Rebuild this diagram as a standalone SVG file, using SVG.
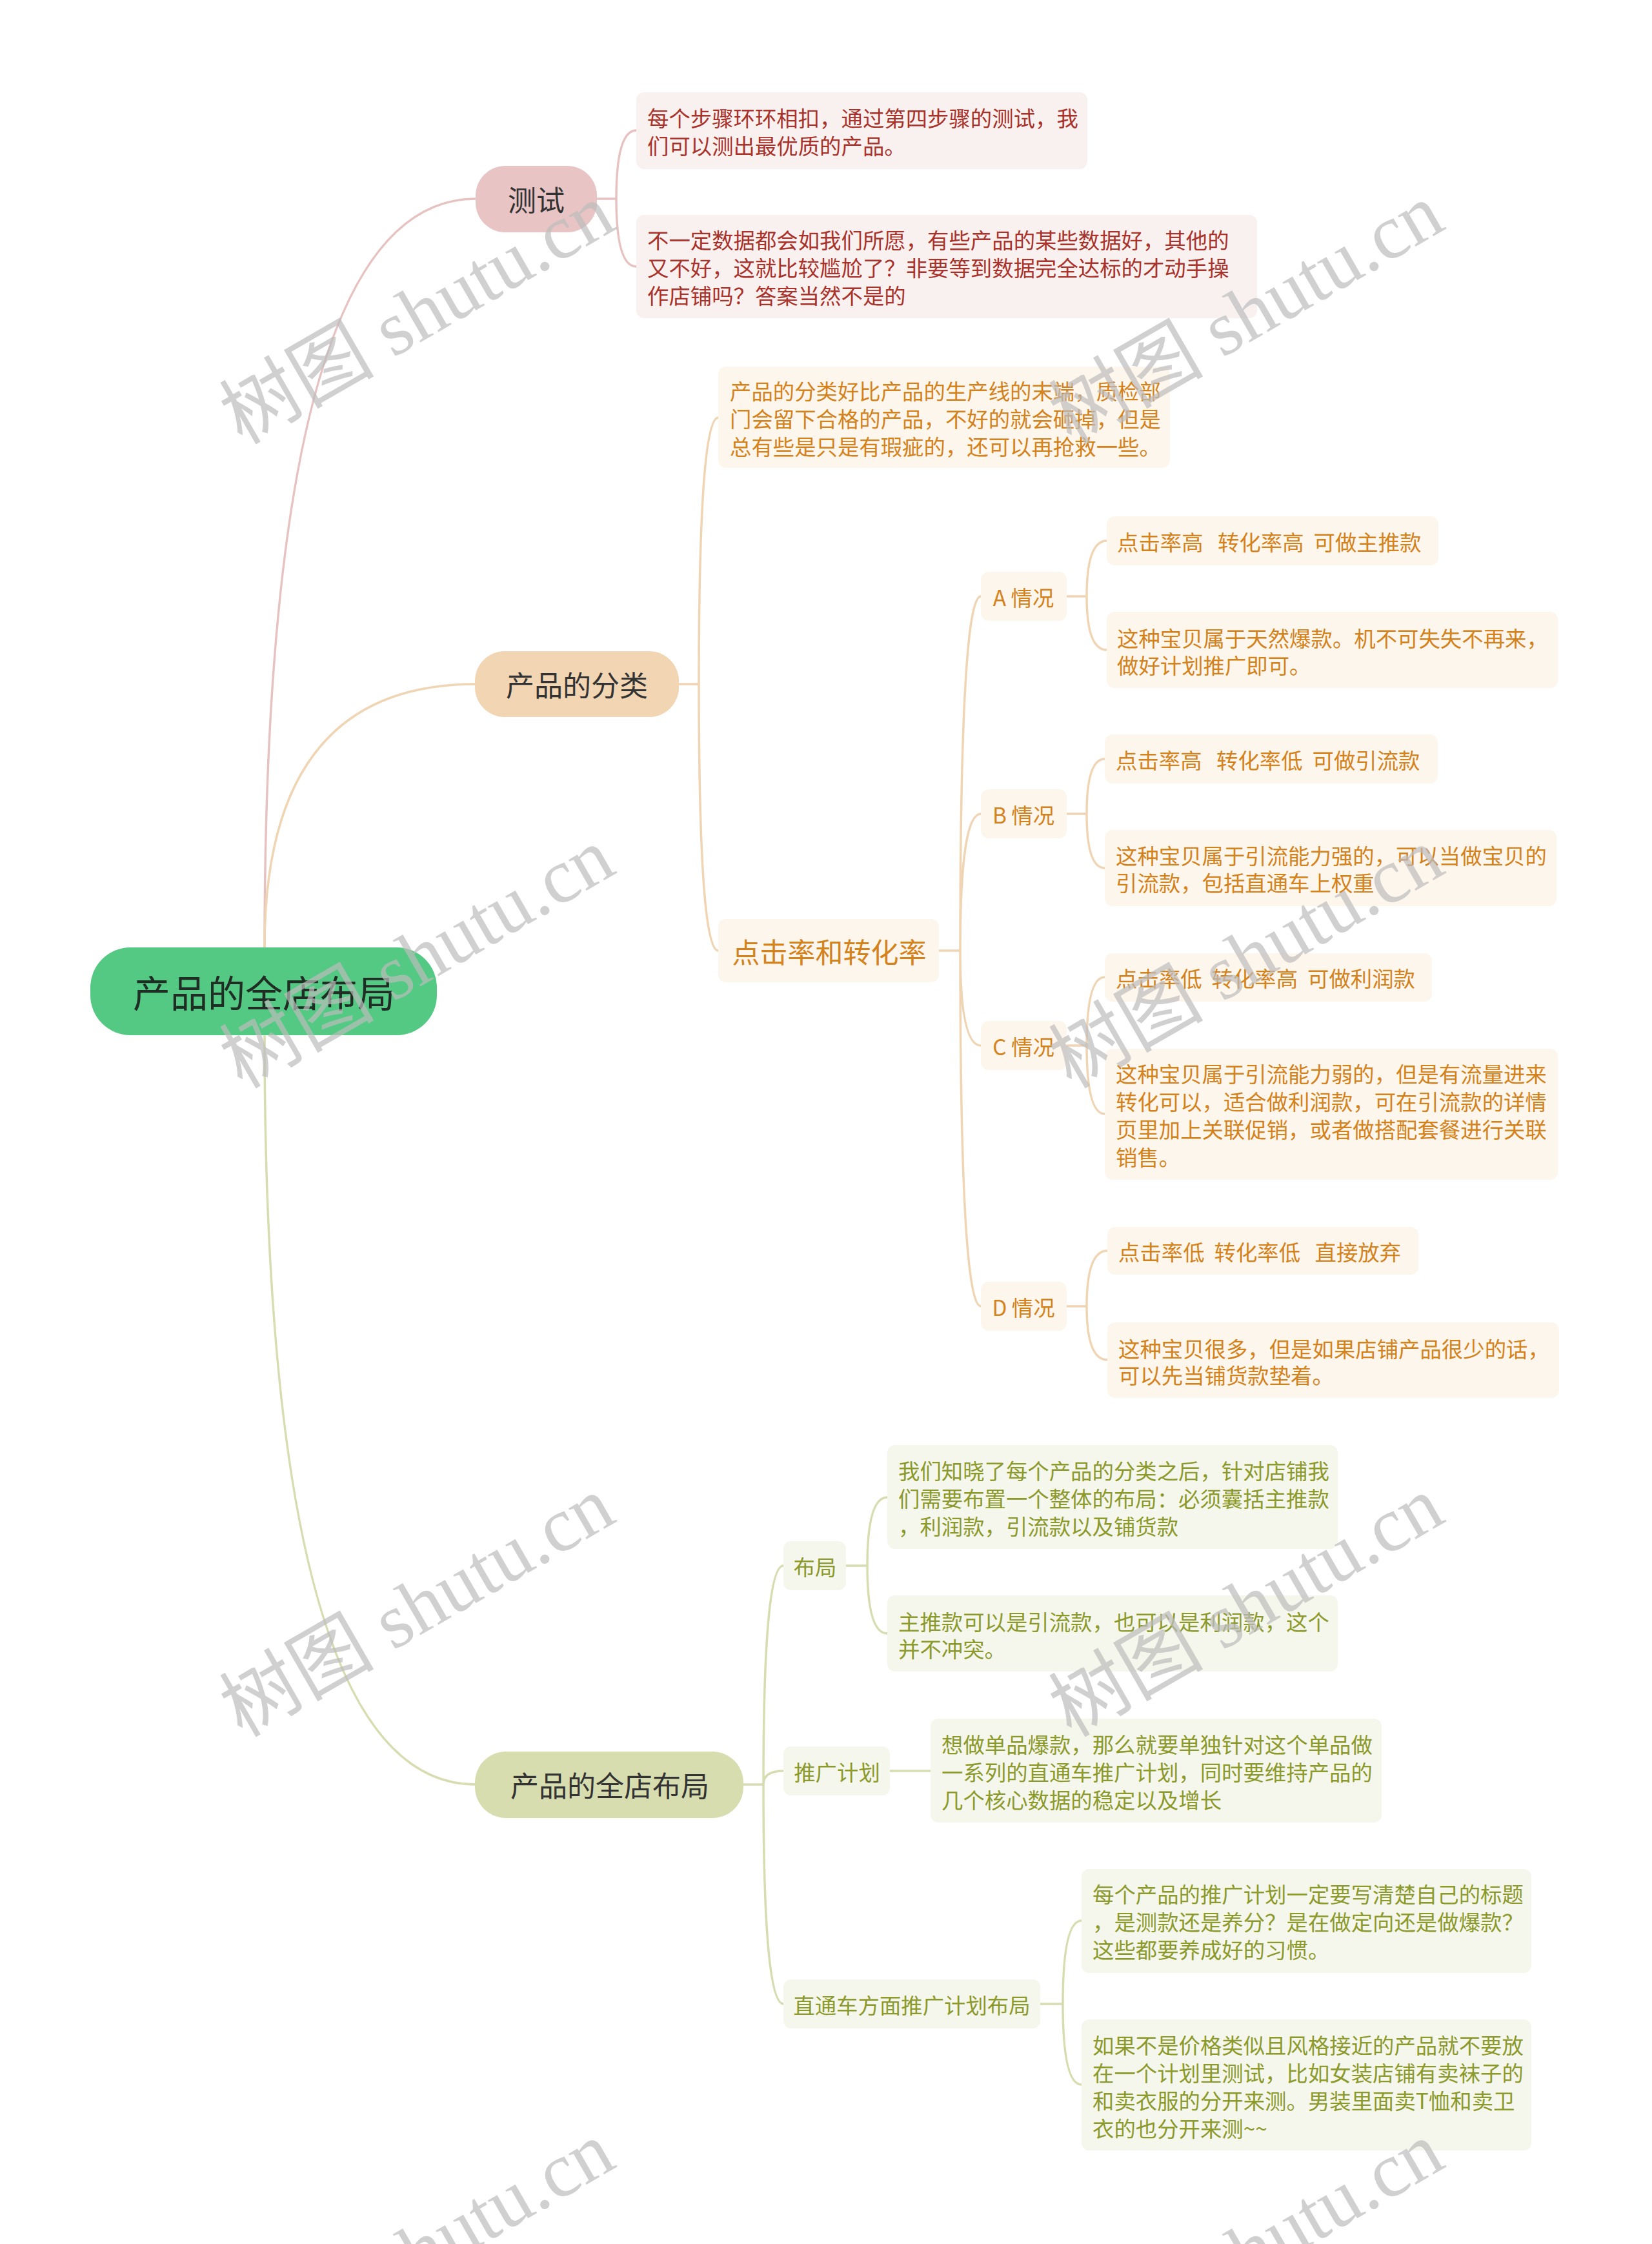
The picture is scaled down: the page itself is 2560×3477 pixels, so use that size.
<svg xmlns="http://www.w3.org/2000/svg" width="2560" height="3477" viewBox="0 0 2560 3477">
<style>
text{font-family:"Noto Sans CJK SC","Noto Sans",sans-serif;dominant-baseline:central;white-space:pre}
.main{font-size:44px;fill:#333333;text-anchor:middle}
.leaf{font-size:33.4px}
.sub{font-size:33.4px;text-anchor:middle}
.pk{fill:#a9322a}.tn{fill:#d4821c}.gr{fill:#8c9a2c}
.bpk{fill:#f9f1f0}.btn{fill:#fdf6ed}.bgr{fill:#f5f6ec}
.lpk{fill:none;stroke:#e6c2c1;stroke-width:3.5}
.ltn{fill:none;stroke:#efd5b4;stroke-width:3.5}
.lgr{fill:none;stroke:#d8dcb1;stroke-width:3.5}
.wm{font-family:"Liberation Serif","Noto Sans CJK SC",serif;font-size:120px;fill:#bdbdbd;opacity:0.7;dominant-baseline:alphabetic}
</style>
<rect width="2560" height="3477" fill="#ffffff"/>
<g id="connectors">
<path class="lpk" d="M410,1468 Q410,308 737,308"/>
<path class="ltn" d="M410,1468 Q410,1060 737,1060"/>
<path class="lgr" d="M410,1604 Q410,2765 737,2765"/>
<path class="lpk" d="M925,308 H955 M955,308 Q955,202 986,202 M955,308 Q955,413 986,413"/>
<path class="ltn" d="M1052,1060 H1083 M1083,1060 Q1083,647 1113,647 M1083,1060 Q1083,1473 1113,1473"/>
<path class="ltn" d="M1455,1473 H1488 M1488,1473 Q1488,924 1520,924 M1488,1473 Q1488,1261 1520,1261 M1488,1473 Q1488,1620 1520,1620 M1488,1473 Q1488,2024 1520,2024"/>
<path class="ltn" d="M1653,924 H1684 M1684,924 Q1684,838 1715,838 M1684,924 Q1684,1007 1715,1007"/>
<path class="ltn" d="M1653,1261 H1684 M1684,1261 Q1684,1176 1712,1176 M1684,1261 Q1684,1345 1712,1345"/>
<path class="ltn" d="M1653,1620 H1684 M1684,1620 Q1684,1514 1712,1514 M1684,1620 Q1684,1726 1712,1726"/>
<path class="ltn" d="M1653,2024 H1684 M1684,2024 Q1684,1938 1716,1938 M1684,2024 Q1684,2107 1716,2107"/>
<path class="lgr" d="M1152,2765 H1183 M1183,2765 Q1183,2426 1214,2426 M1183,2765 Q1183,2744 1214,2744 M1183,2765 Q1183,3105 1214,3105"/>
<path class="lgr" d="M1311,2426 H1344 M1344,2426 Q1344,2320 1375,2320 M1344,2426 Q1344,2531 1375,2531"/>
<path class="lgr" d="M1379,2744 H1442"/>
<path class="lgr" d="M1612,3105 H1647 M1647,3105 Q1647,2976 1676,2976 M1647,3105 Q1647,3230 1676,3230"/>
</g>
<g id="root">
<rect x="140" y="1468" width="537" height="136" rx="62" fill="#54c983"/>
<text x="409" y="1536" font-size="58" text-anchor="middle" fill="#1f2d24">产品的全店布局</text>
</g>
<g id="n-test">
<rect x="737" y="257" width="188" height="103" rx="46" fill="#e8c5c4"/>
<text class="main" x="831" y="308">测试</text>
</g>
<g id="n-test-1">
<rect class="bpk" x="986" y="143" width="699" height="119" rx="12"/>
<text class="leaf pk" x="1003" y="181">每个步骤环环相扣，通过第四步骤的测试，我</text>
<text class="leaf pk" x="1003" y="224">们可以测出最优质的产品。</text>
</g>
<g id="n-test-2">
<rect class="bpk" x="986" y="333" width="962" height="160" rx="12"/>
<text class="leaf pk" x="1003" y="370">不一定数据都会如我们所愿，有些产品的某些数据好，其他的</text>
<text class="leaf pk" x="1003" y="413">又不好，这就比较尴尬了？非要等到数据完全达标的才动手操</text>
<text class="leaf pk" x="1003" y="456">作店铺吗？答案当然不是的</text>
</g>
<g id="n-class">
<rect x="736" y="1009" width="316" height="102" rx="46" fill="#f2d5b3"/>
<text class="main" x="894" y="1060">产品的分类</text>
</g>
<g id="n-class-1">
<rect class="btn" x="1113" y="568" width="700" height="157" rx="12"/>
<text class="leaf tn" x="1131" y="604">产品的分类好比产品的生产线的末端，质检部</text>
<text class="leaf tn" x="1131" y="647">门会留下合格的产品，不好的就会砸掉，但是</text>
<text class="leaf tn" x="1131" y="690">总有些是只是有瑕疵的，还可以再抢救一些。</text>
</g>
<g id="n-ctr">
<rect class="btn" x="1113" y="1424" width="342" height="98" rx="12"/>
<text x="1285" y="1473" font-size="43" text-anchor="middle" class="tn">点击率和转化率</text>
</g>
<g id="n-a">
<rect class="btn" x="1520" y="886" width="133" height="76" rx="12"/>
<text class="sub tn" x="1586" y="924">A 情况</text>
</g>
<g id="n-a-1">
<rect class="btn" x="1715" y="800" width="514" height="76" rx="12"/>
<text class="leaf tn" x="1731" y="838" xml:space="preserve">点击率高   转化率高  可做主推款</text>
</g>
<g id="n-a-2">
<rect class="btn" x="1715" y="948" width="699" height="118" rx="12"/>
<text class="leaf tn" x="1731" y="987">这种宝贝属于天然爆款。机不可失失不再来，</text>
<text class="leaf tn" x="1731" y="1029">做好计划推广即可。</text>
</g>
<g id="n-b">
<rect class="btn" x="1520" y="1223" width="133" height="76" rx="12"/>
<text class="sub tn" x="1586" y="1261">B 情况</text>
</g>
<g id="n-b-1">
<rect class="btn" x="1712" y="1138" width="516" height="76" rx="12"/>
<text class="leaf tn" x="1729" y="1176" xml:space="preserve">点击率高   转化率低  可做引流款</text>
</g>
<g id="n-b-2">
<rect class="btn" x="1712" y="1286" width="700" height="118" rx="12"/>
<text class="leaf tn" x="1729" y="1324">这种宝贝属于引流能力强的，可以当做宝贝的</text>
<text class="leaf tn" x="1729" y="1366">引流款，包括直通车上权重</text>
</g>
<g id="n-c">
<rect class="btn" x="1520" y="1582" width="133" height="76" rx="12"/>
<text class="sub tn" x="1586" y="1620">C 情况</text>
</g>
<g id="n-c-1">
<rect class="btn" x="1712" y="1477" width="507" height="75" rx="12"/>
<text class="leaf tn" x="1729" y="1514" xml:space="preserve">点击率低  转化率高  可做利润款</text>
</g>
<g id="n-c-2">
<rect class="btn" x="1712" y="1625" width="702" height="203" rx="12"/>
<text class="leaf tn" x="1729" y="1662">这种宝贝属于引流能力弱的，但是有流量进来</text>
<text class="leaf tn" x="1729" y="1705">转化可以，适合做利润款，可在引流款的详情</text>
<text class="leaf tn" x="1729" y="1748">页里加上关联促销，或者做搭配套餐进行关联</text>
<text class="leaf tn" x="1729" y="1791">销售。</text>
</g>
<g id="n-d">
<rect class="btn" x="1520" y="1986" width="133" height="76" rx="12"/>
<text class="sub tn" x="1586" y="2024">D 情况</text>
</g>
<g id="n-d-1">
<rect class="btn" x="1716" y="1901" width="482" height="74" rx="12"/>
<text class="leaf tn" x="1733" y="1938" xml:space="preserve">点击率低  转化率低   直接放弃</text>
</g>
<g id="n-d-2">
<rect class="btn" x="1716" y="2049" width="700" height="117" rx="12"/>
<text class="leaf tn" x="1733" y="2088">这种宝贝很多，但是如果店铺产品很少的话，</text>
<text class="leaf tn" x="1733" y="2129">可以先当铺货款垫着。</text>
</g>
<g id="n-layout">
<rect x="736" y="2714" width="416" height="103" rx="48" fill="#d8ddb0"/>
<text class="main" x="945" y="2765">产品的全店布局</text>
</g>
<g id="n-bj">
<rect class="bgr" x="1214" y="2388" width="97" height="76" rx="12"/>
<text class="sub gr" x="1263" y="2426">布局</text>
</g>
<g id="n-bj-1">
<rect class="bgr" x="1375" y="2239" width="698" height="161" rx="12"/>
<text class="leaf gr" x="1392" y="2277">我们知晓了每个产品的分类之后，针对店铺我</text>
<text class="leaf gr" x="1392" y="2320">们需要布置一个整体的布局：必须囊括主推款</text>
<text class="leaf gr" x="1392" y="2363">，利润款，引流款以及铺货款</text>
</g>
<g id="n-bj-2">
<rect class="bgr" x="1375" y="2472" width="698" height="118" rx="12"/>
<text class="leaf gr" x="1392" y="2511">主推款可以是引流款，也可以是利润款，这个</text>
<text class="leaf gr" x="1392" y="2553">并不冲突。</text>
</g>
<g id="n-tg">
<rect class="bgr" x="1214" y="2706" width="165" height="76" rx="12"/>
<text class="sub gr" x="1297" y="2744">推广计划</text>
</g>
<g id="n-tg-1">
<rect class="bgr" x="1442" y="2663" width="699" height="161" rx="12"/>
<text class="leaf gr" x="1459" y="2701">想做单品爆款，那么就要单独针对这个单品做</text>
<text class="leaf gr" x="1459" y="2744">一系列的直通车推广计划，同时要维持产品的</text>
<text class="leaf gr" x="1459" y="2787">几个核心数据的稳定以及增长</text>
</g>
<g id="n-ztc">
<rect class="bgr" x="1214" y="3067" width="398" height="76" rx="12"/>
<text class="sub gr" x="1413" y="3105" font-size="36">直通车方面推广计划布局</text>
</g>
<g id="n-ztc-1">
<rect class="bgr" x="1676" y="2896" width="697" height="161" rx="12"/>
<text class="leaf gr" x="1693" y="2933">每个产品的推广计划一定要写清楚自己的标题</text>
<text class="leaf gr" x="1693" y="2976">，是测款还是养分？是在做定向还是做爆款？</text>
<text class="leaf gr" x="1693" y="3019">这些都要养成好的习惯。</text>
</g>
<g id="n-ztc-2">
<rect class="bgr" x="1676" y="3129" width="697" height="203" rx="12"/>
<text class="leaf gr" x="1693" y="3167">如果不是价格类似且风格接近的产品就不要放</text>
<text class="leaf gr" x="1693" y="3210">在一个计划里测试，比如女装店铺有卖袜子的</text>
<text class="leaf gr" x="1693" y="3253">和卖衣服的分开来测。男装里面卖T恤和卖卫</text>
<text class="leaf gr" x="1693" y="3296">衣的也分开来测~~</text>
</g>
<g id="watermarks">
<text class="wm" x="375" y="690" transform="rotate(-30 375 690)">树图 shutu.cn</text>
<text class="wm" x="1660" y="690" transform="rotate(-30 1660 690)">树图 shutu.cn</text>
<text class="wm" x="375" y="1688" transform="rotate(-30 375 1688)">树图 shutu.cn</text>
<text class="wm" x="1660" y="1688" transform="rotate(-30 1660 1688)">树图 shutu.cn</text>
<text class="wm" x="375" y="2693" transform="rotate(-30 375 2693)">树图 shutu.cn</text>
<text class="wm" x="1660" y="2693" transform="rotate(-30 1660 2693)">树图 shutu.cn</text>
<text class="wm" x="375" y="3693" transform="rotate(-30 375 3693)">树图 shutu.cn</text>
<text class="wm" x="1660" y="3693" transform="rotate(-30 1660 3693)">树图 shutu.cn</text>
</g>
</svg>
